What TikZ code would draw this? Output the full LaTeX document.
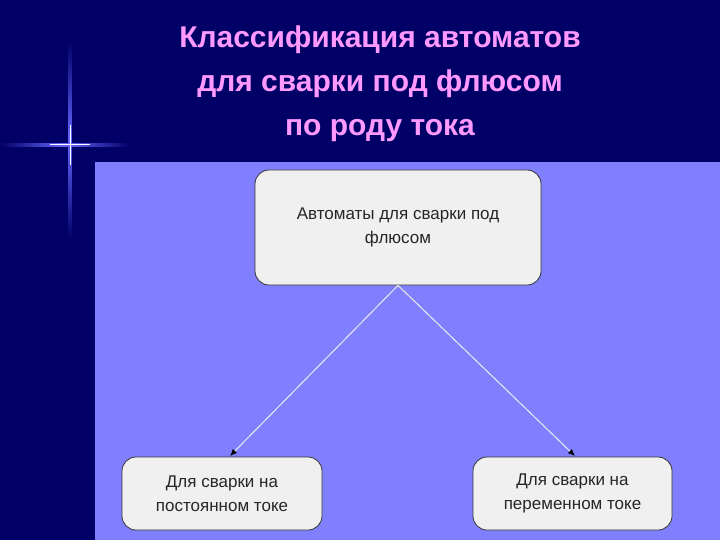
\documentclass[tikz,border=0pt]{standalone}
\usepackage{fontspec}
\setmainfont{Liberation Sans}
\usetikzlibrary{arrows.meta}
\definecolor{navy}{HTML}{000066}
\definecolor{panel}{HTML}{8080FF}
\definecolor{boxfill}{HTML}{F0F0F0}
\definecolor{titlepink}{HTML}{FF99FF}
\tikzset{
 box/.style={draw=black!80, fill=boxfill, rounded corners=14pt, line width=0.8pt, align=center, font=\fontsize{17}{24}\selectfont, text=black!85},
 conn/.style={draw=white!85!gray, line width=1pt, -{Latex[length=7pt,width=6pt,black]}},
 ttl/.style={text=titlepink, font=\bfseries\fontsize{30}{44}\selectfont, align=center}
}
\begin{document}
\begin{tikzpicture}[x=1pt,y=-1pt]
\useasboundingbox (0,0) rectangle (720,540);
\fill[navy] (0,0) rectangle (720,540);
\fill[panel] (95,162) rectangle (720,540);
% star
\shade[left color=navy, right color=navy, middle color=blue!60!white] (0,143.5) rectangle (130,146.5);
\shade[top color=navy, bottom color=navy, middle color=blue!60!white] (68.5,40) rectangle (71.5,240);
\draw[white, line width=1pt] (50,145) -- (90,145);
\draw[white, line width=1pt] (70,125) -- (70,165);
\node[ttl] (title) at (380,84) {Классификация автоматов\\для сварки под флюсом\\по роду тока};
\node[box, minimum width=286pt, minimum height=115pt] (top) at (398,227.5) {Автоматы для сварки под\\флюсом};
\node[box, minimum width=200pt, minimum height=73pt] (left) at (222,493.5) {Для сварки на\\постоянном токе};
\node[box, minimum width=199pt, minimum height=73pt] (right) at (572.5,493.5) {Для сварки на\\переменном токе};
\draw[conn] (top.south) -- (230,456);
\draw[conn] (top.south) -- (575,456);
\end{tikzpicture}
\end{document}
